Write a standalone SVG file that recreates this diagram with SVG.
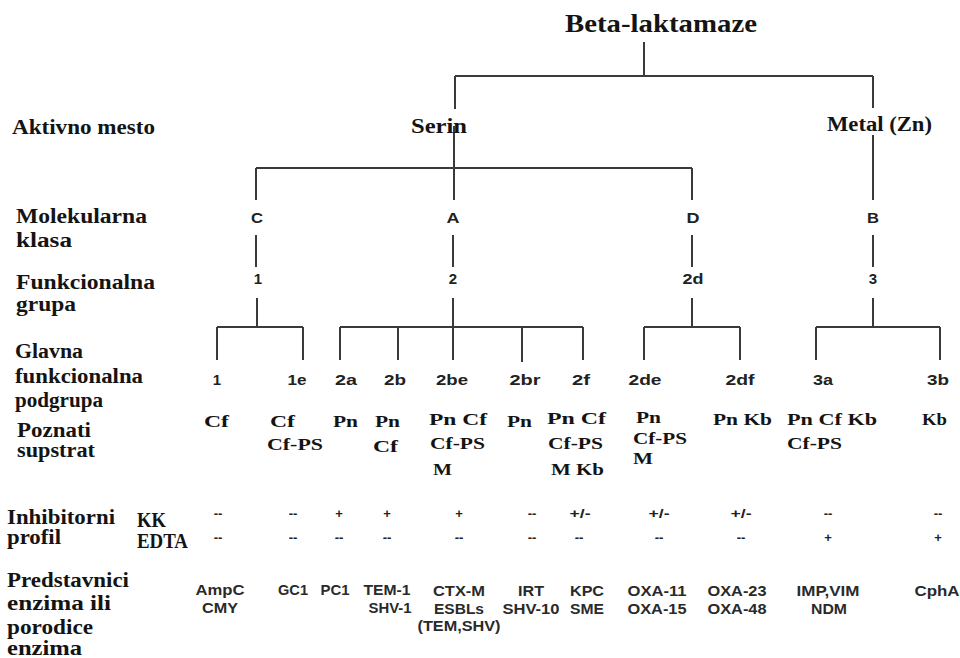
<svg xmlns="http://www.w3.org/2000/svg" width="960" height="658" viewBox="0 0 960 658">
<style>
.t{font-family:"Liberation Serif","Times New Roman",serif;font-weight:bold;fill:#141414}
.h{font-size:20px}
.big{font-size:25px}
.sub{font-size:17px}
.s{font-family:"Liberation Sans",Arial,sans-serif;font-weight:bold;fill:#222;text-anchor:middle}
.n{font-size:15px}
.i{font-size:13px}
.r{font-size:14px;fill:#2a2a2a}
.ln{stroke:#3a3a3a;stroke-width:2;fill:none}
</style>
<rect width="960" height="658" fill="#fff"/>
<g id="connectors" class="ln">
<path d="M644,42V76M455,76H873M455,76V109M873,76V108"/>
<path d="M454,126V200M256,168H692M256,168V200M692,168V200M873,135V200"/>
<path d="M256,235V267M453,235V267M692,235V267M873,235V267"/>
<path d="M257,298V327M217,327H303M217,327V360M303,327V360"/>
<path d="M453,298V360M340,327H583M340,327V360M398,327V360M522,327V362M583,327V360"/>
<path d="M692,298V327M644,327H740M644,327V360M740,327V360"/>
<path d="M873,298V327M816,327H940M816,327V360M940,327V360"/>
</g>
<g id="row-labels">
<text class="t h" x="12" y="134" textLength="143" lengthAdjust="spacingAndGlyphs">Aktivno mesto</text>
<text class="t h" x="16" y="223" textLength="131" lengthAdjust="spacingAndGlyphs">Molekularna</text>
<text class="t h" x="16" y="247" textLength="56" lengthAdjust="spacingAndGlyphs">klasa</text>
<text class="t h" x="16" y="289" textLength="139" lengthAdjust="spacingAndGlyphs">Funkcionalna</text>
<text class="t h" x="16" y="311" textLength="60" lengthAdjust="spacingAndGlyphs">grupa</text>
<text class="t h" x="15" y="358" textLength="68" lengthAdjust="spacingAndGlyphs">Glavna</text>
<text class="t h" x="15" y="383" textLength="128" lengthAdjust="spacingAndGlyphs">funkcionalna</text>
<text class="t h" x="15" y="407" textLength="88" lengthAdjust="spacingAndGlyphs">podgrupa</text>
<text class="t h" x="17" y="437" textLength="74" lengthAdjust="spacingAndGlyphs">Poznati</text>
<text class="t h" x="17" y="457" textLength="78" lengthAdjust="spacingAndGlyphs">supstrat</text>
<text class="t h" x="7" y="524" textLength="108" lengthAdjust="spacingAndGlyphs">Inhibitorni</text>
<text class="t h" x="7" y="544" textLength="54" lengthAdjust="spacingAndGlyphs">profil</text>
<text class="t h" x="137" y="527" textLength="29" lengthAdjust="spacingAndGlyphs">KK</text>
<text class="t h" x="137" y="548" textLength="51" lengthAdjust="spacingAndGlyphs">EDTA</text>
<text class="t h" x="7" y="587" textLength="122" lengthAdjust="spacingAndGlyphs">Predstavnici</text>
<text class="t h" x="7" y="610" textLength="104" lengthAdjust="spacingAndGlyphs">enzima ili</text>
<text class="t h" x="7" y="634" textLength="86" lengthAdjust="spacingAndGlyphs">porodice</text>
<text class="t h" x="7" y="655" textLength="75" lengthAdjust="spacingAndGlyphs">enzima</text>
</g>
<g id="root"><text class="t big" x="565" y="32" textLength="192" lengthAdjust="spacingAndGlyphs">Beta-laktamaze</text></g>
<g id="serin"><text class="t h" x="411" y="133" textLength="56" lengthAdjust="spacingAndGlyphs">Serin</text></g>
<g id="metal"><text class="t h" x="827" y="131" textLength="105" lengthAdjust="spacingAndGlyphs">Metal (Zn)</text></g>
<g id="class-C"><text class="s n" x="257" y="223" textLength="12" lengthAdjust="spacingAndGlyphs">C</text></g>
<g id="class-A"><text class="s n" x="453" y="223" textLength="13" lengthAdjust="spacingAndGlyphs">A</text></g>
<g id="class-D"><text class="s n" x="693" y="223" textLength="13" lengthAdjust="spacingAndGlyphs">D</text></g>
<g id="class-B"><text class="s n" x="873" y="223" textLength="12" lengthAdjust="spacingAndGlyphs">B</text></g>
<g id="group-1"><text class="s n" x="258" y="284">1</text></g>
<g id="group-2"><text class="s n" x="453" y="284">2</text></g>
<g id="group-2d"><text class="s n" x="693" y="284" textLength="21" lengthAdjust="spacingAndGlyphs">2d</text></g>
<g id="group-3"><text class="s n" x="873" y="284">3</text></g>

<g id="sg-1">
<text class="s n" x="217" y="385">1</text>
<text class="t sub" x="204" y="427" textLength="25" lengthAdjust="spacingAndGlyphs">Cf</text>
<text class="s i" x="218" y="518">--</text>
<text class="s i" x="218" y="542">--</text>
<text class="s r" x="220" y="595" textLength="49" lengthAdjust="spacingAndGlyphs">AmpC</text>
<text class="s r" x="220" y="613" textLength="36" lengthAdjust="spacingAndGlyphs">CMY</text>
</g>
<g id="sg-1e">
<text class="s n" x="297" y="385" textLength="19" lengthAdjust="spacingAndGlyphs">1e</text>
<text class="t sub" x="270" y="427" textLength="25" lengthAdjust="spacingAndGlyphs">Cf</text>
<text class="t sub" x="267" y="450" textLength="56" lengthAdjust="spacingAndGlyphs">Cf-PS</text>
<text class="s i" x="293" y="518">--</text>
<text class="s i" x="293" y="542">--</text>
<text class="s r" x="293" y="595" textLength="30" lengthAdjust="spacingAndGlyphs">GC1</text>
</g>
<g id="sg-2a">
<text class="s n" x="346" y="385" textLength="22" lengthAdjust="spacingAndGlyphs">2a</text>
<text class="t sub" x="333" y="427" textLength="25" lengthAdjust="spacingAndGlyphs">Pn</text>
<text class="s i" x="339" y="518">+</text>
<text class="s i" x="339" y="542">--</text>
<text class="s r" x="335" y="595" textLength="29" lengthAdjust="spacingAndGlyphs">PC1</text>
</g>
<g id="sg-2b">
<text class="s n" x="395" y="385" textLength="22" lengthAdjust="spacingAndGlyphs">2b</text>
<text class="t sub" x="375" y="427" textLength="25" lengthAdjust="spacingAndGlyphs">Pn</text>
<text class="t sub" x="373" y="452" textLength="25" lengthAdjust="spacingAndGlyphs">Cf</text>
<text class="s i" x="387" y="518">+</text>
<text class="s i" x="387" y="542">--</text>
<text class="s r" x="387" y="595" textLength="47" lengthAdjust="spacingAndGlyphs">TEM-1</text>
<text class="s r" x="390" y="613" textLength="43" lengthAdjust="spacingAndGlyphs">SHV-1</text>
</g>
<g id="sg-2be">
<text class="s n" x="452" y="385" textLength="32" lengthAdjust="spacingAndGlyphs">2be</text>
<text class="t sub" x="429" y="425" textLength="58" lengthAdjust="spacingAndGlyphs">Pn Cf</text>
<text class="t sub" x="430" y="449" textLength="55" lengthAdjust="spacingAndGlyphs">Cf-PS</text>
<text class="t sub" x="433" y="475" textLength="19" lengthAdjust="spacingAndGlyphs">M</text>
<text class="s i" x="459" y="518">+</text>
<text class="s i" x="459" y="542">--</text>
<text class="s r" x="459" y="596" textLength="52" lengthAdjust="spacingAndGlyphs">CTX-M</text>
<text class="s r" x="459" y="614" textLength="50" lengthAdjust="spacingAndGlyphs">ESBLs</text>
<text class="s r" x="459" y="631" textLength="83" lengthAdjust="spacingAndGlyphs">(TEM,SHV)</text>
</g>
<g id="sg-2br">
<text class="s n" x="525" y="385" textLength="31" lengthAdjust="spacingAndGlyphs">2br</text>
<text class="t sub" x="507" y="427" textLength="25" lengthAdjust="spacingAndGlyphs">Pn</text>
<text class="s i" x="532" y="518">--</text>
<text class="s i" x="532" y="542">--</text>
<text class="s r" x="531" y="596" textLength="26" lengthAdjust="spacingAndGlyphs">IRT</text>
<text class="s r" x="531" y="614" textLength="57" lengthAdjust="spacingAndGlyphs">SHV-10</text>
</g>
<g id="sg-2f">
<text class="s n" x="581" y="385" textLength="18" lengthAdjust="spacingAndGlyphs">2f</text>
<text class="t sub" x="547" y="424" textLength="59" lengthAdjust="spacingAndGlyphs">Pn Cf</text>
<text class="t sub" x="548" y="449" textLength="55" lengthAdjust="spacingAndGlyphs">Cf-PS</text>
<text class="t sub" x="551" y="475" textLength="53" lengthAdjust="spacingAndGlyphs">M  Kb</text>
<text class="s i" x="580" y="518" textLength="21" lengthAdjust="spacingAndGlyphs">+/-</text>
<text class="s i" x="579" y="542">--</text>
<text class="s r" x="587" y="596" textLength="34" lengthAdjust="spacingAndGlyphs">KPC</text>
<text class="s r" x="587" y="614" textLength="34" lengthAdjust="spacingAndGlyphs">SME</text>
</g>
<g id="sg-2de">
<text class="s n" x="645" y="385" textLength="33" lengthAdjust="spacingAndGlyphs">2de</text>
<text class="t sub" x="636" y="423" textLength="25" lengthAdjust="spacingAndGlyphs">Pn</text>
<text class="t sub" x="633" y="444" textLength="54" lengthAdjust="spacingAndGlyphs">Cf-PS</text>
<text class="t sub" x="633" y="464" textLength="20" lengthAdjust="spacingAndGlyphs">M</text>
<text class="s i" x="659" y="518" textLength="21" lengthAdjust="spacingAndGlyphs">+/-</text>
<text class="s i" x="659" y="542">--</text>
<text class="s r" x="657" y="596" textLength="59" lengthAdjust="spacingAndGlyphs">OXA-11</text>
<text class="s r" x="657" y="614" textLength="59" lengthAdjust="spacingAndGlyphs">OXA-15</text>
</g>
<g id="sg-2df">
<text class="s n" x="740" y="385" textLength="29" lengthAdjust="spacingAndGlyphs">2df</text>
<text class="t sub" x="713" y="425" textLength="59" lengthAdjust="spacingAndGlyphs">Pn Kb</text>
<text class="s i" x="741" y="518" textLength="21" lengthAdjust="spacingAndGlyphs">+/-</text>
<text class="s i" x="741" y="542">--</text>
<text class="s r" x="737" y="596" textLength="59" lengthAdjust="spacingAndGlyphs">OXA-23</text>
<text class="s r" x="737" y="614" textLength="59" lengthAdjust="spacingAndGlyphs">OXA-48</text>
</g>
<g id="sg-3a">
<text class="s n" x="823" y="385" textLength="20" lengthAdjust="spacingAndGlyphs">3a</text>
<text class="t sub" x="787" y="425" textLength="90" lengthAdjust="spacingAndGlyphs">Pn  Cf Kb</text>
<text class="t sub" x="787" y="449" textLength="55" lengthAdjust="spacingAndGlyphs">Cf-PS</text>
<text class="s i" x="828" y="518">--</text>
<text class="s i" x="828" y="542">+</text>
<text class="s r" x="828" y="596" textLength="63" lengthAdjust="spacingAndGlyphs">IMP,VIM</text>
<text class="s r" x="829" y="614" textLength="36" lengthAdjust="spacingAndGlyphs">NDM</text>
</g>
<g id="sg-3b">
<text class="s n" x="938" y="385" textLength="22" lengthAdjust="spacingAndGlyphs">3b</text>
<text class="t sub" x="922" y="425" textLength="25" lengthAdjust="spacingAndGlyphs">Kb</text>
<text class="s i" x="938" y="518">--</text>
<text class="s i" x="938" y="542">+</text>
<text class="s r" x="937" y="596" textLength="45" lengthAdjust="spacingAndGlyphs">CphA</text>
</g>
</svg>
